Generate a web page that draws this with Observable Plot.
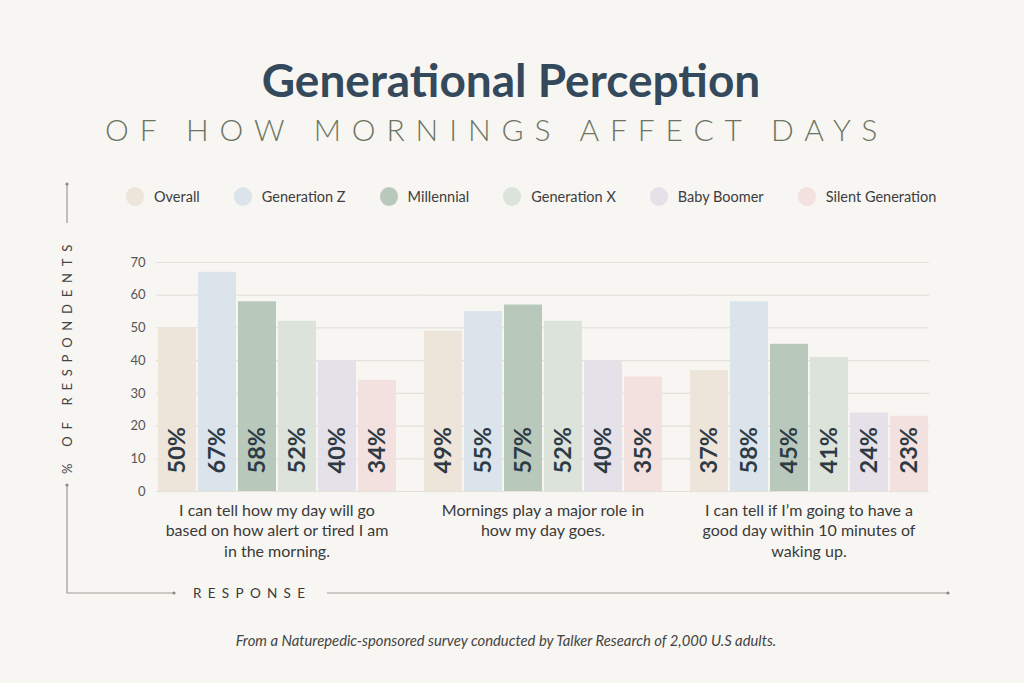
<!DOCTYPE html>
<html>
<head>
<meta charset="utf-8">
<script src="https://cdn.jsdelivr.net/npm/d3@7"></script>
<script src="https://cdn.jsdelivr.net/npm/@observablehq/plot@0.6"></script>
<style>
  html, body { margin: 0; padding: 0; background: #f8f6f2; }
  #wrap { position: relative; width: 1024px; height: 683px; overflow: hidden; font-family: Lato, "Noto Sans", sans-serif; }
  #title { position: absolute; left: 0; top: 57px; width: 1022px; text-align: center; font-size: 46px; line-height: 1; font-weight: 700; color: #34495b; }
  #subtitle { position: absolute; left: 105px; top: 114px; font-size: 30px; line-height: 1; font-weight: 300; color: #6c7562; letter-spacing: 10.9px; white-space: nowrap; }
  #legend { position: absolute; left: 126px; top: 186px; height: 20px; display: flex; align-items: center; gap: 34px; font-size: 14.5px; color: #3d3d3d; }
  #legend .item { display: flex; align-items: center; gap: 10px; }
  #legend .sw { width: 18px; height: 19px; border-radius: 50%; }
  #chart { position: absolute; left: 0; top: 175px; }
  #caption { position: absolute; left: 0; top: 631px; width: 1012px; text-align: center; font-size: 14.8px; font-style: italic; color: #444; }
</style>
</head>
<body>
<div id="wrap">
  <div id="title">Generational Perception</div>
  <div id="subtitle">OF HOW MORNINGS AFFECT DAYS</div>
  <div id="legend"></div>
  <div id="chart"></div>
  <div id="caption">From a Naturepedic-sponsored survey conducted by Talker Research of 2,000 U.S adults.</div>
</div>
<script>
const questions = [
  "I can tell how my day will go\nbased on how alert or tired I am\nin the morning.",
  "Mornings play a major role in\nhow my day goes.",
  "I can tell if I\u2019m going to have a\ngood day within 10 minutes of\nwaking up."
];
const generations = ["Overall", "Generation Z", "Millennial", "Generation X", "Baby Boomer", "Silent Generation"];
const colors = ["#eee5da", "#dbe4eb", "#b8c9bc", "#dbe3da", "#e5e1e9", "#f2e1de"];
const overall = [50, 49, 37];
const genZ = [67, 55, 58];
const millennial = [58, 57, 45];
const genX = [52, 52, 41];
const boomer = [40, 40, 24];
const silent = [34, 35, 23];
const yTicks = [0, 10, 20, 30, 40, 50, 60, 70];

const series = [overall, genZ, millennial, genX, boomer, silent];
const data = [];
questions.forEach((q, qi) => {
  generations.forEach((g, gi) => {
    data.push({question: q, gen: g, value: series[gi][qi]});
  });
});
// grid rows per facet; the non-last facets extend across the gap to the next facet
const gridInner = [];
const gridLast = [];
questions.forEach((q, qi) => {
  yTicks.forEach(t => (qi < questions.length - 1 ? gridInner : gridLast).push({question: q, v: t}));
});

// legend
const legend = document.getElementById("legend");
generations.forEach((g, i) => {
  const item = document.createElement("div");
  item.className = "item";
  const sw = document.createElement("div");
  sw.className = "sw";
  sw.style.background = colors[i];
  const lab = document.createElement("span");
  lab.textContent = g;
  item.appendChild(sw);
  item.appendChild(lab);
  legend.appendChild(item);
});

const plot = Plot.plot({
  width: 1024,
  height: 445,
  marginTop: 87,
  marginBottom: 129,
  marginLeft: 155,
  marginRight: 93,
  style: {background: "transparent", fontFamily: "Lato, 'Noto Sans', sans-serif"},
  fx: {domain: questions, paddingInner: 0.0936, paddingOuter: 0, axis: null},
  x: {domain: generations, paddingInner: 0.05, paddingOuter: 0, axis: null},
  y: {domain: [0, 70], axis: null},
  color: {domain: generations, range: colors},
  marks: [
    Plot.ruleY(gridInner, {fx: "question", y: "v", stroke: "#e4e1db", strokeWidth: 1.2, insetRight: -26}),
    Plot.ruleY(gridLast, {fx: "question", y: "v", stroke: "#e4e1db", strokeWidth: 1.2}),
    Plot.axisY({ticks: yTicks, tickSize: 0, tickPadding: 11, fontSize: 13, color: "#555", label: null}),
    Plot.barY(data, {fx: "question", x: "gen", y: "value", fill: "gen"}),
    Plot.text(data, {
      fx: "question", x: "gen", y: () => 0,
      text: d => d.value + "%",
      rotate: -90, textAnchor: "start", lineAnchor: "middle",
      dy: -18, fontSize: 23.5, fontWeight: 700, fill: "#2e3a45"
    }),
    Plot.text(questions, {
      fx: d => d, text: d => d,
      frameAnchor: "bottom", lineAnchor: "top", textAnchor: "middle",
      dy: 10, fontSize: 16, lineHeight: 1.27, fill: "#3a3a3a"
    })
  ]
});
document.getElementById("chart").appendChild(plot);

// decorative axis guides
const svg = d3.select(plot);
const g = svg.append("g").attr("stroke", "#9b9b95").attr("fill", "none").attr("stroke-width", 1.2);
g.append("line").attr("x1", 67).attr("x2", 67).attr("y1", 9).attr("y2", 48);
g.append("path").attr("d", "M67,310 V418 H174");
g.append("line").attr("x1", 327).attr("x2", 948).attr("y1", 418).attr("y2", 418);
const dots = svg.append("g").attr("fill", "#8a8a84");
[[67, 9], [67, 310], [174, 418], [948, 418]].forEach(([cx, cy]) => dots.append("circle").attr("cx", cx).attr("cy", cy).attr("r", 1.6));
svg.append("text")
  .attr("transform", "translate(72,181) rotate(-90)")
  .attr("text-anchor", "middle")
  .attr("font-size", 13).attr("letter-spacing", "6.8px").attr("fill", "#444")
  .text("% OF RESPONDENTS");
svg.append("text")
  .attr("x", 193).attr("y", 423)
  .attr("text-anchor", "start")
  .attr("font-size", 13.5).attr("letter-spacing", "6.3px").attr("fill", "#3a3a3a")
  .text("RESPONSE");
</script>
</body>
</html>
